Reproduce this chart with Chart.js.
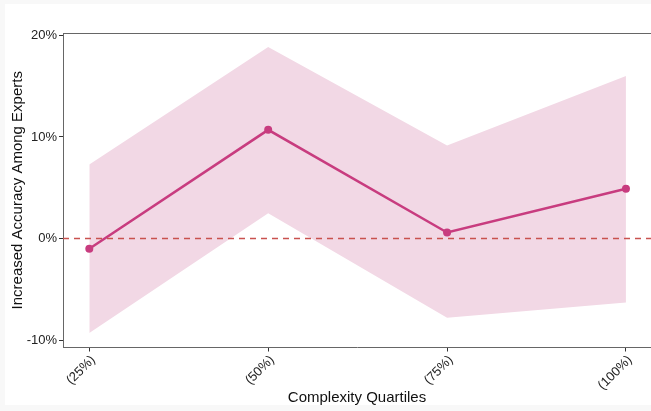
<!DOCTYPE html>
<html>
<head>
<meta charset="utf-8">
<script src="https://cdn.jsdelivr.net/npm/chart.js@4/dist/chart.umd.min.js"></script>
<style>
  html, body { margin: 0; padding: 0; background: #f8f8f8; overflow: hidden; }
  #wrap { position: absolute; left: 0; top: 0; width: 651px; height: 411px; overflow: hidden; }
</style>
</head>
<body>
<div id="wrap"><canvas id="c" width="655" height="411"></canvas></div>
<script>
// Complexity quartiles and the estimated effect with its confidence band (percent)
const quartiles = ['(25%)', '(50%)', '(75%)', '(100%)'];
const estimate = [-1.0, 10.7, 0.6, 4.9];
const upperBound = [7.3, 18.85, 9.15, 16.0];
const lowerBound = [-9.3, 2.5, -7.8, -6.3];
const yTicks = [-10, 0, 10, 20];

const lineColor = '#c83c7f';
const bandColor = 'rgb(242,216,229)';

const toPoints = arr => arr.map((v, i) => ({ x: i, y: v }));

const frame = {
  id: 'frame',
  beforeDraw(chart) {
    const ctx = chart.ctx;
    ctx.save();
    ctx.fillStyle = '#f8f8f8';
    ctx.fillRect(0, 0, chart.width, chart.height);
    ctx.fillStyle = '#ffffff';
    ctx.fillRect(5, 4, chart.width - 5, chart.height - 10);
    ctx.restore();
  },
  afterDatasetsDraw(chart) {
    const { ctx, chartArea, scales } = chart;
    const y0 = scales.y.getPixelForValue(0);
    ctx.save();
    // reference line at zero
    ctx.strokeStyle = '#c9524f';
    ctx.lineWidth = 1.5;
    ctx.setLineDash([6, 5]);
    ctx.beginPath();
    ctx.moveTo(chartArea.left, y0);
    ctx.lineTo(chart.width, y0);
    ctx.stroke();
    ctx.restore();
  },
  afterDraw(chart) {
    const { ctx, chartArea } = chart;
    ctx.save();
    ctx.strokeStyle = '#666666';
    ctx.lineWidth = 1;
    ctx.beginPath();
    ctx.moveTo(chartArea.left, chartArea.top + 0.5);
    ctx.lineTo(chart.width, chartArea.top + 0.5);
    ctx.stroke();
    ctx.restore();
  }
};

new Chart(document.getElementById('c'), {
  type: 'line',
  data: {
    datasets: [
      {
        label: 'upper',
        data: toPoints(upperBound),
        borderWidth: 0,
        pointRadius: 0,
        backgroundColor: bandColor,
        fill: '+1',
        order: 3
      },
      {
        label: 'lower',
        data: toPoints(lowerBound),
        borderWidth: 0,
        pointRadius: 0,
        fill: false,
        order: 3
      },
      {
        label: 'estimate',
        data: toPoints(estimate),
        borderColor: lineColor,
        backgroundColor: lineColor,
        borderWidth: 2.5,
        pointRadius: 4,
        pointBorderWidth: 0,
        pointBackgroundColor: lineColor,
        fill: false,
        order: 1
      }
    ]
  },
  options: {
    responsive: false,
    animation: false,
    layout: { padding: { top: 33, right: 0, left: 0, bottom: 0 } },
    plugins: { legend: { display: false }, tooltip: { enabled: false } },
    scales: {
      x: {
        type: 'linear',
        min: -0.147,
        max: 3.14,
        afterBuildTicks(scale) { scale.ticks = quartiles.map((_, i) => ({ value: i })); },
        afterFit(scale) {
          scale.height = 63.5;
          scale.paddingLeft = 0;
          scale.paddingRight = 0;
        },
        grid: { display: true, drawOnChartArea: false, tickLength: 4, tickColor: '#333', tickWidth: 1 },
        border: { color: '#666', width: 1 },
        ticks: {
          minRotation: 45,
          maxRotation: 45,
          color: '#222',
          padding: 1,
          labelOffset: 4,
          font: { family: 'Liberation Sans, Arial, sans-serif', size: 13 },
          callback: v => quartiles[v]
        },
        title: {
          display: true,
          text: 'Complexity Quartiles',
          color: '#111',
          font: { family: 'Liberation Sans, Arial, sans-serif', size: 15 },
          padding: { top: 0, bottom: 4 }
        }
      },
      y: {
        type: 'linear',
        min: -10.72,
        max: 20.23,
        afterBuildTicks(scale) { scale.ticks = yTicks.map(v => ({ value: v })); },
        afterFit(scale) {
          scale.width = 63;
          scale.paddingTop = 0;
          scale.paddingBottom = 0;
        },
        grid: { display: true, drawOnChartArea: false, tickLength: 4, tickColor: '#333', tickWidth: 1 },
        border: { color: '#666', width: 1 },
        ticks: {
          color: '#222',
          padding: 2,
          font: { family: 'Liberation Sans, Arial, sans-serif', size: 13 },
          callback: v => v + '%'
        },
        title: {
          display: true,
          text: 'Increased Accuracy Among Experts',
          color: '#111',
          font: { family: 'Liberation Sans, Arial, sans-serif', size: 15 },
          padding: { top: 9, bottom: 4 }
        }
      }
    }
  },
  plugins: [frame]
});
</script>
</body>
</html>
